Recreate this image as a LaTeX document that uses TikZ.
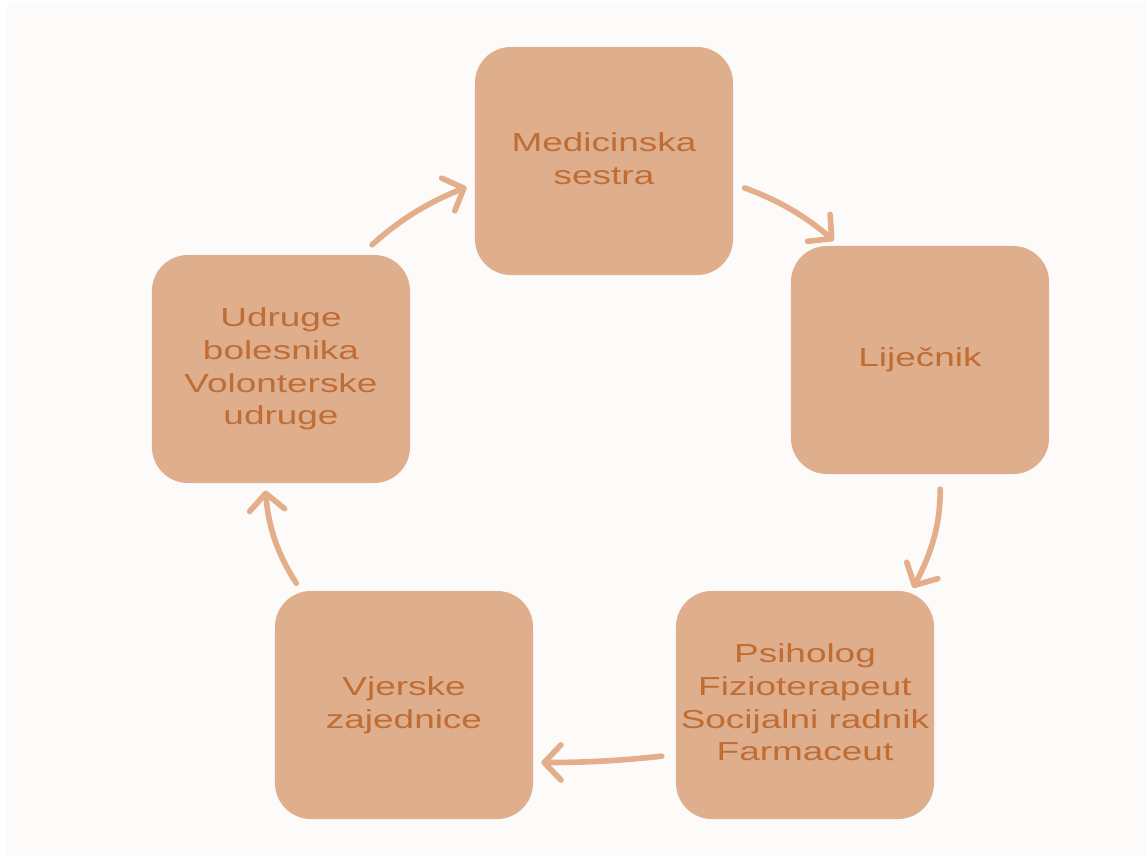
\documentclass[tikz,border=0pt]{standalone}
\usepackage{fontspec}
\setmainfont{Liberation Sans}
\usepackage{graphicx}
\usetikzlibrary{arrows.meta}
\definecolor{boxfill}{HTML}{DFAE8C}
\definecolor{boxtext}{HTML}{BF6D33}
\definecolor{arrowcol}{HTML}{E4AE8A}
\definecolor{paper}{HTML}{FCFBF9}
\newcommand{\widetxt}[1]{\scalebox{1.42}[1]{\begin{tabular}{@{}c@{}}#1\end{tabular}}}
\tikzset{
	box/.style={rectangle,rounded corners=0.9cm,fill=boxfill,minimum width=6.45cm,
	minimum height=5.7cm,inner sep=0pt,text=boxtext,font=\fontsize{18.5}{23.4}\selectfont},
	flow/.style={draw=arrowcol,line width=4pt,line cap=round,
	-{Straight Barb[length=12pt,width=25pt,round]}}
}
\begin{document}
\begin{tikzpicture}[x=0.025cm,y=-0.025cm]
	\useasboundingbox (0,0) rectangle (1146,856);
	\fill[paper] (7,3) rectangle (1146,856);
	\node(med) [box] at (604,161) {\widetxt{Medicinska\\sestra}};
	\node(lij) [box] at (920,360) {\widetxt{Liječnik}};
	\node(psi) [box] at (805,705) {\widetxt{Psiholog\\Fizioterapeut\\Socijalni radnik\\Farmaceut}};
	\node(vje) [box] at (404,705) {\widetxt{Vjerske\\zajednice}};
	\node(udr) [box] at (281,369) {\widetxt{Udruge\\bolesnika\\Volonterske\\udruge}};
	\draw [flow, shorten <=0.37cm, shorten >=0.22cm] (udr.55) to[bend left=10] (med.190);
	\draw [flow, shorten <=0.3cm, shorten >=0.2cm] (med.350) to[bend left=10] (lij.125.5);
	\draw [flow, shorten <=0.37cm, shorten >=0.08cm] (lij.280.5) to[bend left=14] (psi.47.6);
	\draw [flow, shorten <=0.35cm, shorten >=0.2cm] (psi.201) to[bend left=3] (vje.336.7);
	\draw [flow, shorten <=0.22cm, shorten >=0.18cm] (vje.132) to[bend left=14] (udr.262.9);
\end{tikzpicture}
\end{document}
